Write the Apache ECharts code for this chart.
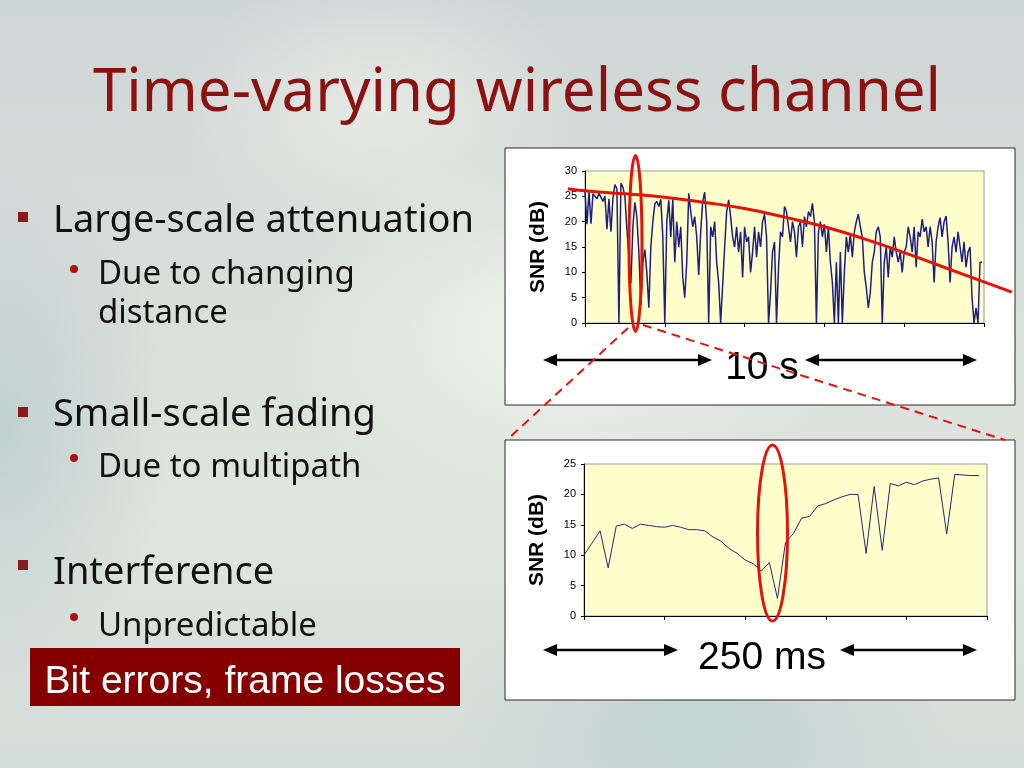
<!DOCTYPE html>
<html>
<head>
<meta charset="utf-8">
<script src="https://cdn.jsdelivr.net/npm/echarts@6/dist/echarts.min.js"></script>
<style>
html,body{margin:0;padding:0;width:1024px;height:768px;overflow:hidden;}
body{
  background:
    radial-gradient(ellipse 420px 260px at 560px 330px, rgba(245,246,240,0.85), rgba(245,246,240,0) 70%),
    radial-gradient(ellipse 300px 200px at 380px 110px, rgba(236,238,232,0.8), rgba(236,238,232,0) 70%),
    radial-gradient(ellipse 240px 400px at 0px 430px, rgba(170,195,198,0.55), rgba(170,195,198,0) 70%),
    radial-gradient(ellipse 360px 220px at 700px 720px, rgba(175,200,200,0.5), rgba(175,200,200,0) 70%),
    linear-gradient(180deg, #cdd6d6 0%, #d9dfdb 40%, #dfe4de 70%, #d3ddd9 100%);
}
#c{width:1024px;height:768px;}
</style>
</head>
<body>
<div id="c"></div>
<script>
// ---- data ----
// Top chart: SNR (dB) over 10 s, one sample every 0.05 s
const topStep = 0.05;
const topSNR = [
26,19.5,26,19.6,25.5,25.8,24.5,25.6,25.3,24.0,25.0,18.5,24.5,18,24.6,27.3,26.5,0,27.6,26.8,
25.0,18.5,13,7.8,19,23.8,21,14,3.5,12,14.5,10,3,15,20,23.5,24,23,24.4,17,
0,20,24.2,17,24.4,12,20,15,19,9,5,12,25.6,22,19,21,17,9.5,18,24,
25.8,20,0,19,17,20,12,8,0,0,15,22,24.3,21,17,15,19,14,18,9,
19,16,17,10,14,19,13,18,15,20,21.5,17,0,6,14,16,0,11,18,17,
23,22,19,16,20,18,13,19,20,15,21,19,22,21,23.6,20,0,18,20,17,
19.5,14,19,12,8,0,12,0,14,0,10,17,14,17.5,13,18,20,21.5,19,17,
10,7,3,6,12,14,18,19,17,0,12,15,9,15,13,17,14,12,14,10,
14,15,19,17,14,19,11,18,17,20.5,18,19,15,19,16,8,16,19,20.8,17,
20,21.1,16,8,15,17,14,18,15,12,16,11,14,15,5,0,3,0,12,12
];
// Large-scale trend (red curve), seconds -> dB (runs a little past both ends of the plot)
const trendT   = [-0.43, 0, 1, 2, 3, 4, 5, 6, 7, 8, 9, 10, 10.7];
const trendSNR = [26.5, 26.1, 25.5, 24.8, 23.8, 22.6, 20.9, 19.0, 16.6, 13.9, 11.0, 8.1, 6.1];
// Bottom chart: SNR (dB) over 250 ms zoom, 50 samples
const bottomSNR = [
10.0,12.0,14.0,7.9,14.8,15.1,14.4,15.1,14.9,14.7,
14.6,14.9,14.6,14.2,14.2,14.0,13.0,12.3,11.1,10.3,
9.2,8.6,7.4,8.8,2.9,12.1,13.6,16.1,16.4,18.1,
18.5,19.1,19.6,20.0,20.0,10.3,21.3,10.8,21.8,21.4,
22.0,21.6,22.2,22.5,22.7,13.5,23.3,23.2,23.1,23.1
];
const topTicksY = [0, 5, 10, 15, 20, 25, 30];
const bottomTicksY = [0, 5, 10, 15, 20, 25];

// ---- build ----
const topData = topSNR.map((v, i) => [i * topStep, v]);
const trendData = trendT.map((t, i) => [t, trendSNR[i]]);
const bottomData = bottomSNR.map((v, i) => [i, v]);

const chart = echarts.init(document.getElementById('c'), null, {renderer: 'canvas'});

const axisY = (idx, max) => ({
  type: 'value', gridIndex: idx, min: 0, max: max, interval: 5,
  name: 'SNR (dB)', nameLocation: 'middle', nameRotate: 90, nameGap: 36,
  nameTextStyle: {fontFamily: 'Liberation Sans, Arial', fontWeight: 'bold', fontSize: 21, color: '#000'},
  axisLine: {show: true, lineStyle: {color: '#000', width: 1}},
  axisTick: {show: true, inside: false, length: 3, lineStyle: {color: '#000'}},
  axisLabel: {fontFamily: 'Liberation Sans, Arial', fontSize: 11, color: '#000', margin: 8},
  splitLine: {show: false}
});
const axisX = (idx, max, interval) => ({
  type: 'value', gridIndex: idx, min: 0, max: max, interval: interval,
  axisLine: {show: true, onZero: false, lineStyle: {color: '#000', width: 1}},
  axisTick: {show: true, inside: false, length: 4, lineStyle: {color: '#000'}},
  axisLabel: {show: false},
  splitLine: {show: false}
});

// top plot geometry; the trend grid shares its scale but spans the trend's wider time range
const topLeft = 585, topWidth = 399, topSpan = 10;
const pxPerSec = topWidth / topSpan;
const tMin = trendT[0], tMax = trendT[trendT.length - 1];

const red = '#e3120b';
function arrow(x1, x2, y) {
  return [
    {type: 'line', shape: {x1: x1 + 10, y1: y, x2: x2 - 10, y2: y}, style: {stroke: '#000', lineWidth: 2.5}, z: 50},
    {type: 'polygon', shape: {points: [[x1, y], [x1 + 14, y - 6], [x1 + 14, y + 6]]}, style: {fill: '#000'}, z: 50},
    {type: 'polygon', shape: {points: [[x2, y], [x2 - 14, y - 6], [x2 - 14, y + 6]]}, style: {fill: '#000'}, z: 50}
  ];
}
const bulletFont = '"Noto Sans", "Open Sans", sans-serif';
const arialFont = '"Liberation Sans", Arial, sans-serif';
// place text by its alphabetic baseline (top = baseline - 0.8 * size)
function txt(x, baseline, s, size, color, font, align) {
  return {type: 'text', x: x, y: baseline - 0.8 * size, z: 50,
    style: {text: s, fill: color, font: size + 'px ' + font, align: align || 'left', verticalAlign: 'top'}};
}

const graphics = [
  // chart frames
  {type: 'rect', shape: {x: 505, y: 148, width: 510, height: 257}, style: {fill: '#fff', stroke: '#2b2b2b', lineWidth: 1}, z: -5},
  {type: 'rect', shape: {x: 505, y: 440, width: 510, height: 260}, style: {fill: '#fff', stroke: '#2b2b2b', lineWidth: 1}, z: -5},
  // title
  txt(517, 112, 'Time-varying wireless channel', 60, '#8c1111', bulletFont, 'center'),
  // bullets
  {type: 'rect', shape: {x: 18, y: 212, width: 10, height: 10}, style: {fill: '#8b1a1a'}, z: 50},
  {type: 'rect', shape: {x: 18, y: 407, width: 10, height: 10}, style: {fill: '#8b1a1a'}, z: 50},
  {type: 'rect', shape: {x: 18, y: 560, width: 10, height: 10}, style: {fill: '#8b1a1a'}, z: 50},
  {type: 'circle', shape: {cx: 74, cy: 269, r: 4}, style: {fill: '#b01010'}, z: 50},
  {type: 'circle', shape: {cx: 74, cy: 458, r: 4}, style: {fill: '#b01010'}, z: 50},
  {type: 'circle', shape: {cx: 74, cy: 617, r: 4}, style: {fill: '#b01010'}, z: 50},
  txt(53, 233, 'Large-scale attenuation', 38, '#111', bulletFont),
  txt(98, 284, 'Due to changing', 33, '#111', bulletFont),
  txt(98, 323, 'distance', 33, '#111', bulletFont),
  txt(53, 427, 'Small-scale fading', 38, '#111', bulletFont),
  txt(98, 477, 'Due to multipath', 33, '#111', bulletFont),
  txt(53, 585, 'Interference', 38, '#111', bulletFont),
  txt(98, 636, 'Unpredictable', 33, '#111', bulletFont),
  {type: 'rect', shape: {x: 30, y: 648, width: 430, height: 58}, style: {fill: '#850000'}, z: 49},
  txt(245, 694, 'Bit errors, frame losses', 39, '#fff', arialFont, 'center'),
  // time span labels
  txt(762, 380, '10 s', 39, '#000', arialFont, 'center'),
  txt(762, 670, '250 ms', 39, '#000', arialFont, 'center'),
  ...arrow(543, 712, 360),
  ...arrow(805, 977, 360),
  ...arrow(543, 678, 650),
  ...arrow(840, 977, 650),
  // zoom annotations
  {type: 'ellipse', shape: {cx: 635.5, cy: 243.5, rx: 6.5, ry: 88}, style: {fill: 'none', stroke: red, lineWidth: 3}, z: 60},
  {type: 'ellipse', shape: {cx: 772.5, cy: 533, rx: 15, ry: 88}, style: {fill: 'none', stroke: red, lineWidth: 3}, z: 60},
  {type: 'line', shape: {x1: 628, y1: 328, x2: 509, y2: 438}, style: {stroke: red, lineWidth: 2, lineDash: [9, 6]}, z: 60},
  {type: 'line', shape: {x1: 643, y1: 325, x2: 1005, y2: 440}, style: {stroke: red, lineWidth: 2, lineDash: [9, 6]}, z: 60}
];

chart.setOption({
  backgroundColor: 'transparent',
  animation: false,
  grid: [
    {left: topLeft, top: 171, width: topWidth, height: 152, show: true, backgroundColor: '#ffffcc', borderColor: '#9a9a9a', borderWidth: 1, containLabel: false},
    {left: 584, top: 464, width: 403, height: 152, show: true, backgroundColor: '#ffffcc', borderColor: '#9a9a9a', borderWidth: 1, containLabel: false},
    {left: topLeft + tMin * pxPerSec, top: 171, width: (tMax - tMin) * pxPerSec, height: 152, show: false, containLabel: false}
  ],
  xAxis: [axisX(0, topSpan, 2), axisX(1, 50, 10),
    {type: 'value', gridIndex: 2, min: tMin, max: tMax, show: false}],
  yAxis: [axisY(0, 30), axisY(1, 25),
    {type: 'value', gridIndex: 2, min: 0, max: 30, show: false}],
  series: [
    {type: 'line', xAxisIndex: 0, yAxisIndex: 0, data: topData, showSymbol: false,
     lineStyle: {color: '#1d1d85', width: 1.5}, z: 3},
    {type: 'line', xAxisIndex: 2, yAxisIndex: 2, data: trendData, showSymbol: false, smooth: true, clip: false,
     lineStyle: {color: red, width: 3}, z: 5},
    {type: 'line', xAxisIndex: 1, yAxisIndex: 1, data: bottomData, showSymbol: false,
     lineStyle: {color: '#26267a', width: 1}, z: 3}
  ],
  graphic: {elements: graphics}
});
</script>
</body>
</html>
